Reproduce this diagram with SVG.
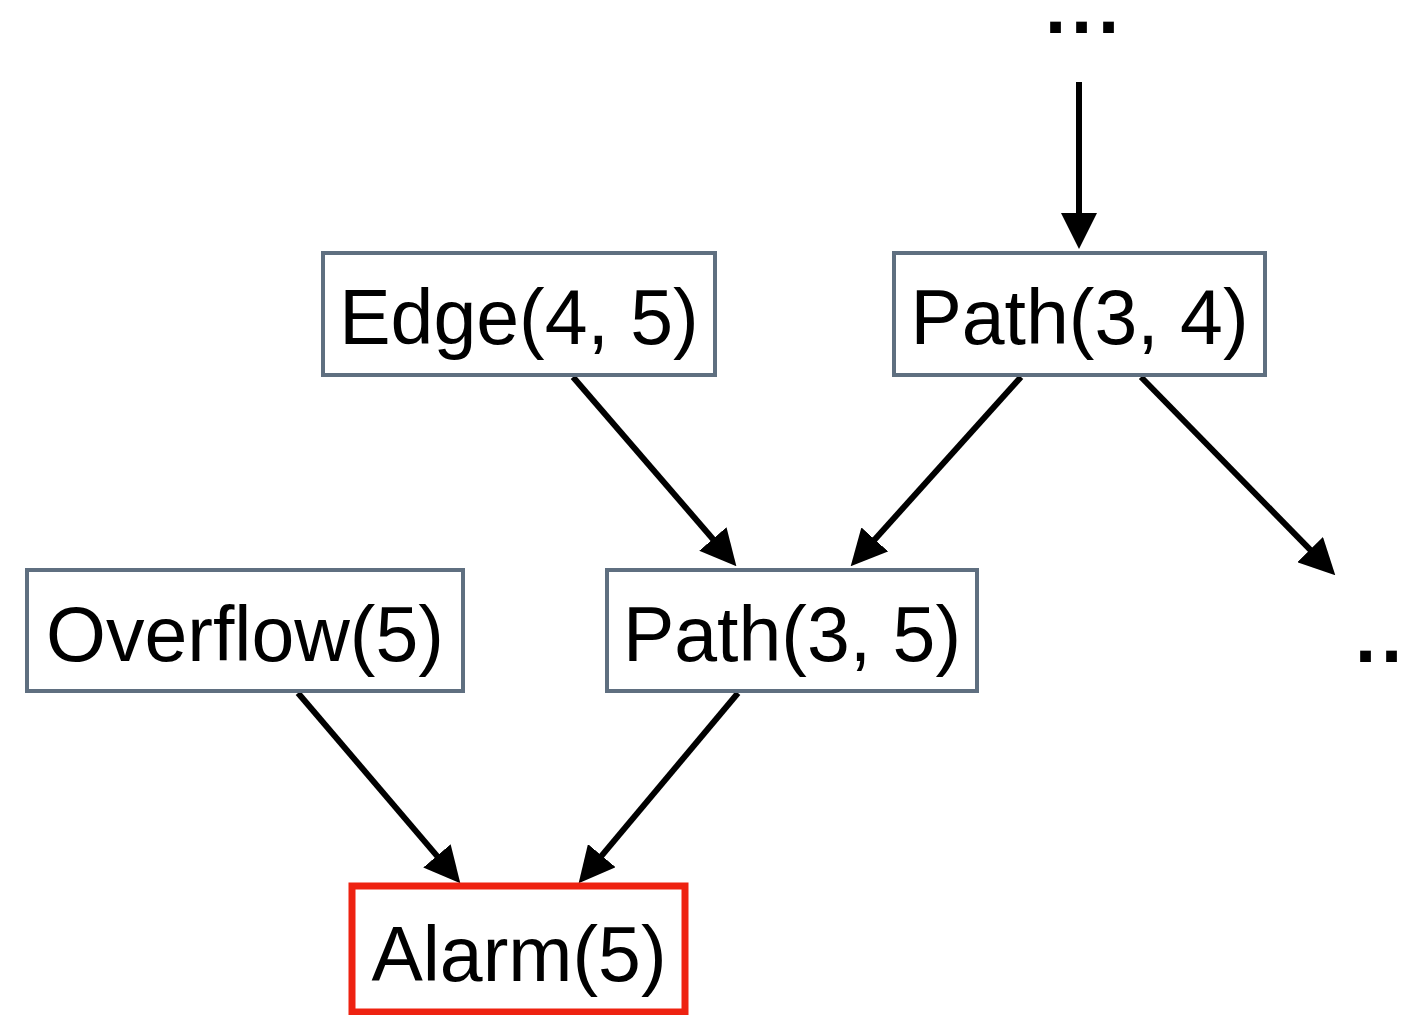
<svg xmlns="http://www.w3.org/2000/svg" width="1403" height="1015" viewBox="0 0 1403 1015">
<style>
.box{fill:#fff;stroke:#5f6f80;stroke-width:4}
.alarm{fill:#fff;stroke:#ee2211;stroke-width:7}
.lbl{font-family:"Liberation Sans",Arial,sans-serif;font-size:77px;fill:#000;text-anchor:middle}
.dots{font-family:"Liberation Sans",Arial,sans-serif;font-size:76px;font-weight:bold;fill:#000}
.edge{stroke:#000;stroke-width:6;fill:none;marker-end:url(#ah)}
</style>
<defs>
<marker id="ah" markerUnits="userSpaceOnUse" markerWidth="36" markerHeight="36" viewBox="0 0 36 36" refX="1" refY="18" orient="auto">
<path d="M0,0 L36,18 L0,36 z" fill="#000"/>
</marker>
</defs>
<g id="connectors">
<line class="edge" x1="1079" y1="82" x2="1079" y2="214"/>
<line class="edge" x1="573" y1="377" x2="713.5" y2="539.7"/>
<line class="edge" x1="1021" y1="377" x2="874.1" y2="540.2"/>
<line class="edge" x1="1141" y1="377" x2="1310.8" y2="550.3"/>
<line class="edge" x1="298" y1="693" x2="437.6" y2="856.6"/>
<line class="edge" x1="738" y1="693" x2="601.1" y2="856.4"/>
</g>
<g id="dots-top"><text class="dots" x="1045 1071 1098" y="33">...</text></g>
<g id="dots-right"><text class="dots" x="1355 1381" y="662">..</text></g>
<g id="edge45"><rect class="box" x="323" y="253" width="392" height="122"/><text class="lbl" x="519" y="344">Edge(4, 5)</text></g>
<g id="path34"><rect class="box" x="894" y="253" width="371" height="122"/><text class="lbl" x="1079.5" y="344">Path(3, 4)</text></g>
<g id="overflow5"><rect class="box" x="27" y="570" width="436" height="121"/><text class="lbl" x="245" y="661">Overflow(5)</text></g>
<g id="path35"><rect class="box" x="607" y="570" width="370" height="121"/><text class="lbl" x="792" y="661">Path(3, 5)</text></g>
<g id="alarm5"><rect class="alarm" x="352" y="886" width="333" height="126"/><text class="lbl" x="519" y="981">Alarm(5)</text></g>
</svg>
